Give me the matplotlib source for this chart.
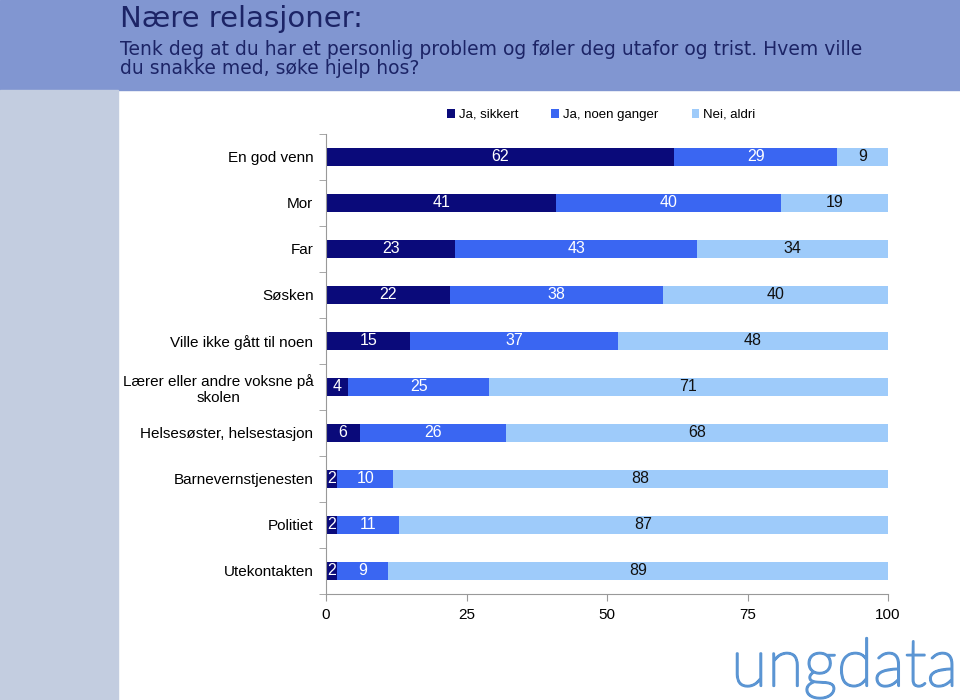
import matplotlib.pyplot as plt
import matplotlib.patheffects as pe
import numpy as np

# survey data (percent)
categories = ['En god venn', 'Mor', 'Far', 'Søsken', 'Ville ikke gått til noen',
              'Lærer eller andre voksne på\nskolen', 'Helsesøster, helsestasjon',
              'Barnevernstjenesten', 'Politiet', 'Utekontakten']
ja_sikkert = [62, 41, 23, 22, 15, 4, 6, 2, 2, 2]
ja_noen = [29, 40, 43, 38, 37, 25, 26, 10, 11, 9]
nei_aldri = [9, 19, 34, 40, 48, 71, 68, 88, 87, 89]
series_names = ['Ja, sikkert', 'Ja, noen ganger', 'Nei, aldri']
colors = ['#0a0a7a', '#3a66f2', '#9ecbfa']
label_colors = ['white', 'white', '#111111']

plt.rcParams['font.family'] = ['Liberation Sans', 'DejaVu Sans']

fig = plt.figure(figsize=(9.6, 7.0), dpi=100)

# header band and left strip
fig.patches.append(plt.Rectangle((0, 1 - 90 / 700), 1, 90 / 700, transform=fig.transFigure,
                                 color='#8196d1', zorder=0))
fig.patches.append(plt.Rectangle((0, 0), 118 / 960, 1 - 90 / 700, transform=fig.transFigure,
                                 color='#c3cde0', zorder=0))

title_font = ['DejaVu Sans']
fig.text(120 / 960, 1 - 19 / 700, 'Nære relasjoner:', fontsize=21, color='#1c2466',
         va='center', ha='left', family=title_font)
fig.text(120 / 960, 1 - 59 / 700,
         'Tenk deg at du har et personlig problem og føler deg utafor og trist. Hvem ville\n'
         'du snakke med, søke hjelp hos?',
         fontsize=13.5, color='#1c2466', va='center', ha='left', family=title_font,
         linespacing=0.95)

ax = fig.add_axes([326 / 960, 1 - 594 / 700, 562 / 960, 460 / 700])

y = np.arange(len(categories))
data = [ja_sikkert, ja_noen, nei_aldri]
left = np.zeros(len(categories))
for vals, name, col, lc in zip(data, series_names, colors, label_colors):
    vals = np.array(vals, dtype=float)
    ax.barh(y, vals, left=left, height=0.4, color=col, label=name)
    for yi, l, v in zip(y, left, vals):
        ax.text(l + v / 2, yi, f'{int(v)}', ha='center', va='center', color=lc, fontsize=11.5)
    left += vals

ax.set_xlim(0, 100)
ax.set_ylim(len(categories) - 0.5, -0.5)
ax.set_xticks([0, 25, 50, 75, 100])
ax.set_yticks(y)
ax.set_yticklabels(categories, fontsize=11)
ax.tick_params(axis='y', length=0, pad=9)
ax.set_yticks(np.arange(-0.5, len(categories), 1), minor=True)
ax.tick_params(axis='y', which='minor', length=5, color='#999999')
ax.tick_params(axis='x', length=5, color='#999999', labelsize=11, pad=5)
for lbl in ax.get_yticklabels():
    lbl.set_multialignment('center')
for s in ['top', 'right']:
    ax.spines[s].set_visible(False)
ax.spines['left'].set_color('#999999')
ax.spines['bottom'].set_color('#999999')

ax.legend(loc='center', bbox_to_anchor=(0.49, 1 + 19 / 460), ncol=3, frameon=False,
          fontsize=9.5, handlelength=0.6, handleheight=0.6, handletextpad=0.3,
          columnspacing=2.5)

# logo
fig.text(0.998, 1 - 686 / 700, 'ungdata', fontsize=48, color='#5b95d3', ha='right',
         va='baseline', fontweight='light', family=['Lato', 'DejaVu Sans'],
         path_effects=[pe.withStroke(linewidth=1.6, foreground='#5b95d3')])

fig.savefig('out.png', dpi=100, facecolor='white')
